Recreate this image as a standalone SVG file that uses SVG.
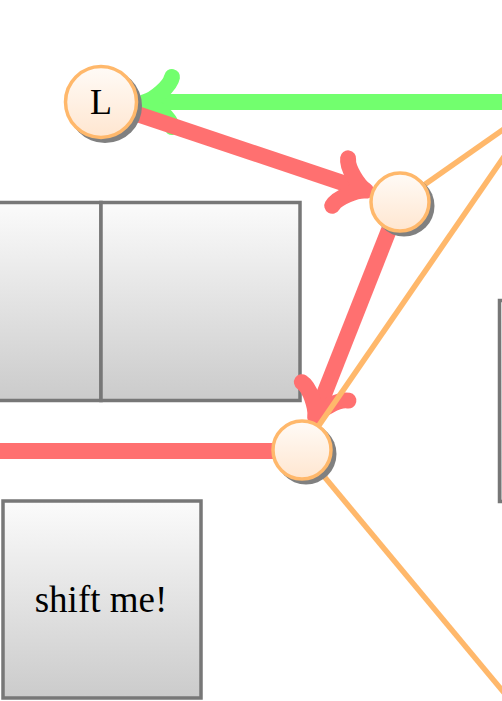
<svg xmlns="http://www.w3.org/2000/svg" width="502" height="701" viewBox="0 0 502 701">
<defs>
<linearGradient id="gRect" x1="0" y1="0" x2="0" y2="1">
<stop offset="0" stop-color="#fbfbfb"/>
<stop offset="1" stop-color="#cbcbcb"/>
</linearGradient>
<linearGradient id="gCirc" x1="0" y1="0" x2="0" y2="1">
<stop offset="0" stop-color="#fffbf7"/>
<stop offset="1" stop-color="#ffe6d0"/>
</linearGradient>
<path id="tip" d="M -27,-25 C -25,-15 -8,-2 0,0 C -8,2 -25,15 -27,25"/>
</defs>
<style>
.box{fill:url(#gRect);stroke:#777777;stroke-width:3.5}
.circ{fill:url(#gCirc);stroke:#ffb86b;stroke-width:3.5}
.shadow{fill:#808080;stroke:none}
.thick{fill:none;stroke-width:16;stroke-linecap:butt}
.head{fill:none;stroke-width:16;stroke-linecap:round;stroke-linejoin:round}
.green{stroke:#72ff6e}
.red{stroke:#ff7070}
.orange{fill:none;stroke:#ffb86b;stroke-width:5.5}
.lbl{font-family:"Liberation Serif","DejaVu Serif",serif;font-size:36px;fill:#000;text-anchor:middle}
.big{font-size:37px}
</style>
<g id="box-top-left"><rect class="box" x="-98" y="202.5" width="199" height="198"/></g>
<g id="box-top-right"><rect class="box" x="101" y="202.5" width="199" height="198"/></g>
<g id="box-shift"><rect class="box" x="3" y="501" width="198" height="197"/><text class="lbl big" x="101" y="612">shift me!</text></g>
<g id="box-right"><rect class="box" x="499.5" y="300.5" width="200" height="201"/></g>
<g id="connectors">
<line class="thick green" x1="560" y1="102" x2="150" y2="102"/>
<use href="#tip" class="head green" transform="translate(145,102) rotate(180)"/>
<line class="thick red" x1="136" y1="113.7" x2="362" y2="189.3"/>
<use href="#tip" class="head red" transform="translate(365.8,190.6) rotate(18.5)"/>
<line class="thick red" x1="389" y1="229.9" x2="316.5" y2="413.5"/>
<use href="#tip" class="head red" transform="translate(315.2,416.5) rotate(111.6)"/>
<line class="thick red" x1="-10" y1="451" x2="280" y2="451"/>
<line class="orange" x1="423.7" y1="185.3" x2="541" y2="103"/>
<line class="orange" x1="318.4" y1="426.1" x2="541" y2="103"/>
<line class="orange" x1="320.6" y1="472.3" x2="560" y2="760"/>
</g>
<g id="node-L"><circle class="shadow" cx="105" cy="106" r="37"/><circle class="circ" cx="101" cy="102" r="35.5"/><text class="lbl" x="101" y="114">L</text></g>
<g id="node-2"><circle class="shadow" cx="404" cy="206" r="30.5"/><circle class="circ" cx="400" cy="202" r="29"/></g>
<g id="node-3"><circle class="shadow" cx="306" cy="454" r="30.5"/><circle class="circ" cx="302" cy="450" r="29"/></g>
</svg>
